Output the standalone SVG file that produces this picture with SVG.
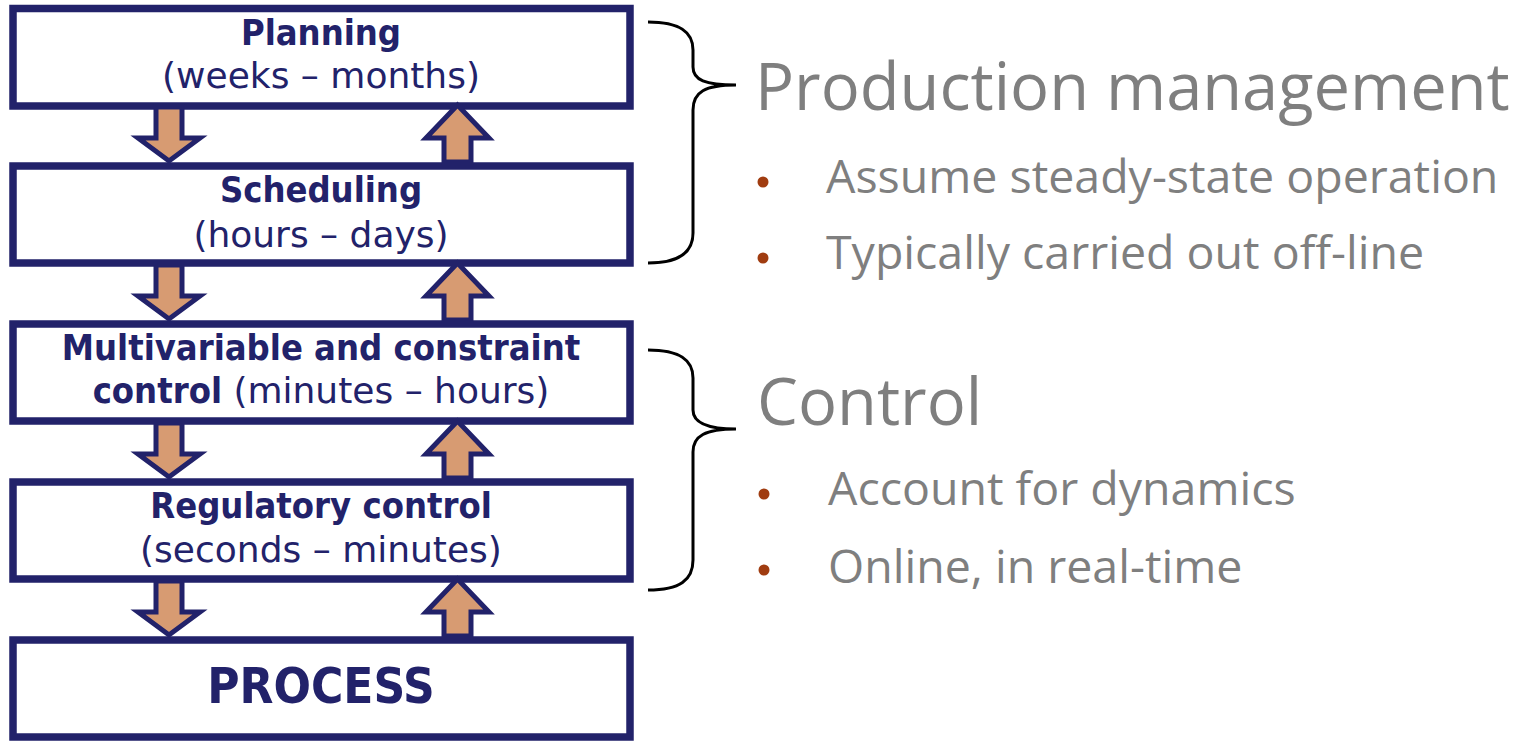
<svg xmlns="http://www.w3.org/2000/svg" width="1515" height="741" viewBox="0 0 1515 741">
<style>
.box{fill:#fff;stroke:#22226A;stroke-width:7.5}
.arr{fill:#D79B72;stroke:#22226A;stroke-width:5;stroke-linejoin:miter}
.b{font-family:"DejaVu Sans Condensed","DejaVu Sans",sans-serif;font-stretch:condensed;font-weight:bold;font-size:36px;fill:#22226A}
.r{font-family:"DejaVu Sans",sans-serif;font-weight:normal;font-stretch:normal;font-size:36px;fill:#22226A}
.brace{fill:none;stroke:#000;stroke-width:3}
.h{font-family:"Open Sans",sans-serif;font-size:65px;fill:#7F7F7F}
.t{font-family:"Open Sans",sans-serif;font-size:46.5px;fill:#7F7F7F}
.dot{fill:#A03C10}
</style>
<defs>
<polygon id="down" class="arr" points="156,107 182,107 182,138 200,138 169,161 138,138 156,138"/>
<polygon id="up" class="arr" points="444,162 471,162 471,138 489,138 457.5,105 426,138 444,138"/>
</defs>
<g id="n1"><rect class="box" x="13" y="8.5" width="617" height="97.5"/>
<text class="b" x="321" y="45" text-anchor="middle">Planning</text>
<text class="r" x="321" y="88" text-anchor="middle">(weeks – months)</text></g>
<g id="n2"><rect class="box" x="13" y="166" width="617" height="97"/>
<text class="b" x="321" y="202" text-anchor="middle">Scheduling</text>
<text class="r" x="321" y="247" text-anchor="middle">(hours – days)</text></g>
<g id="n3"><rect class="box" x="13" y="324" width="617" height="97"/>
<text class="b" x="321" y="360" text-anchor="middle">Multivariable and constraint</text>
<text class="r" x="321" y="403" text-anchor="middle"><tspan class="b">control</tspan> (minutes – hours)</text></g>
<g id="n4"><rect class="box" x="13" y="482" width="617" height="97"/>
<text class="b" x="321" y="518" text-anchor="middle">Regulatory control</text>
<text class="r" x="321" y="562" text-anchor="middle">(seconds – minutes)</text></g>
<g id="n5"><rect class="box" x="13" y="640" width="617" height="97"/>
<text class="b" x="321" y="703" text-anchor="middle" style="font-size:49px">PROCESS</text></g>
<g id="connectors">
<use href="#down"/><use href="#up"/>
<use href="#down" y="158"/><use href="#up" y="158"/>
<use href="#down" y="316"/><use href="#up" y="316"/>
<use href="#down" y="474"/><use href="#up" y="474"/>
</g>
<g id="brace1"><path class="brace" d="M648,22 C680,22 693,32 693,50 L693,67 C693,80 705,85 736,85 C705,85 693,92 693,110 L693,233 C693,252 680,263 648,263"/></g>
<g id="brace2"><path class="brace" d="M648,350 C680,350 693,360 693,378 L693,410 C693,422 705,429 736,429 C705,429 693,436 693,452 L693,560 C693,580 680,590 648,590"/></g>
<g id="pm">
<text class="h" x="755" y="110">Production management</text>
<circle class="dot" cx="763" cy="182" r="5.5"/><text class="t" x="826" y="193">Assume steady-state operation</text>
<circle class="dot" cx="763" cy="258" r="5.5"/><text class="t" x="826" y="269">Typically carried out off-line</text>
</g>
<g id="ctl">
<text class="h" x="757" y="425">Control</text>
<circle class="dot" cx="764" cy="494" r="5.5"/><text class="t" x="828" y="505">Account for dynamics</text>
<circle class="dot" cx="764" cy="570" r="5.5"/><text class="t" x="828" y="583">Online, in real-time</text>
</g>
</svg>
